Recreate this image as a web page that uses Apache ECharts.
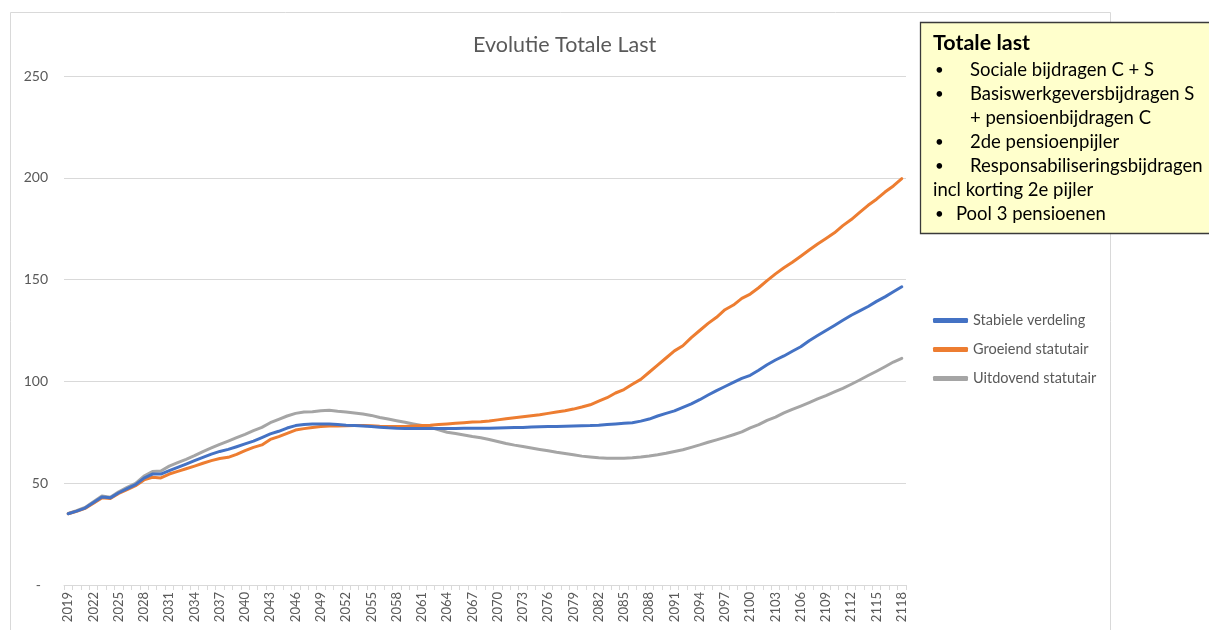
<!DOCTYPE html>
<html>
<head>
<meta charset="utf-8">
<script src="https://cdn.jsdelivr.net/npm/echarts@6/dist/echarts.min.js"></script>
<style>
html,body{margin:0;padding:0;background:#fff;}
#c{width:1209px;height:630px;}
</style>
</head>
<body>
<div id="c"></div>
<script>
var years = ['2019','2020','2021','2022','2023','2024','2025','2026','2027','2028',
'2029','2030','2031','2032','2033','2034','2035','2036','2037','2038',
'2039','2040','2041','2042','2043','2044','2045','2046','2047','2048',
'2049','2050','2051','2052','2053','2054','2055','2056','2057','2058',
'2059','2060','2061','2062','2063','2064','2065','2066','2067','2068',
'2069','2070','2071','2072','2073','2074','2075','2076','2077','2078',
'2079','2080','2081','2082','2083','2084','2085','2086','2087','2088',
'2089','2090','2091','2092','2093','2094','2095','2096','2097','2098',
'2099','2100','2101','2102','2103','2104','2105','2106','2107','2108',
'2109','2110','2111','2112','2113','2114','2115','2116','2117','2118'];

var stabiele = [35.0,36.3,37.8,40.5,43.2,42.8,45.3,47.3,49.3,52.5,
54.5,54.5,56.2,57.8,59.4,61.1,62.7,64.3,65.6,66.6,
67.9,69.3,70.7,72.4,74.2,75.5,77.1,78.3,78.8,79.1,
79.1,79.1,78.8,78.5,78.3,78.1,77.8,77.5,77.2,77.0,
76.9,76.9,76.9,76.9,76.9,76.9,76.9,77.0,77.0,77.0,
77.0,77.1,77.2,77.3,77.4,77.6,77.7,77.8,77.9,78.0,
78.1,78.2,78.3,78.5,78.8,79.1,79.4,79.7,80.5,81.5,
83.0,84.3,85.5,87.3,89.0,91.0,93.3,95.5,97.5,99.5,
101.5,103.0,105.5,108.2,110.5,112.5,114.8,117.0,120.0,122.5,
125.0,127.5,130.0,132.5,134.6,136.8,139.3,141.5,144.0,146.5];

var groeiend = [35.0,36.2,37.6,40.2,42.8,42.5,45.0,46.8,48.8,51.6,
52.9,52.6,54.5,55.8,57.1,58.4,59.8,61.1,62.1,62.7,
64.2,66.0,67.6,68.8,71.5,72.9,74.5,76.1,76.8,77.4,
77.8,78.1,78.1,78.2,78.3,78.4,78.2,78.0,77.9,77.8,
77.9,78.1,78.3,78.5,78.8,79.1,79.4,79.7,80.0,80.2,
80.6,81.1,81.6,82.1,82.6,83.1,83.6,84.3,85.0,85.6,
86.4,87.4,88.5,90.3,92.0,94.3,96.0,98.6,101.0,104.5,
108.0,111.5,115.0,117.5,121.5,125.0,128.5,131.5,135.2,137.5,
140.8,142.9,146.0,149.5,152.8,155.8,158.5,161.5,164.5,167.5,
170.2,173.0,176.5,179.5,183.0,186.5,189.5,193.0,196.0,199.6];

var uitdovend = [35.2,36.5,38.1,40.9,43.7,43.1,45.8,48.0,49.9,53.5,
55.7,56.0,58.4,60.1,61.7,63.5,65.5,67.3,69.1,70.7,
72.4,74.0,75.8,77.4,79.7,81.4,83.0,84.3,85.0,85.1,
85.6,85.8,85.3,85.0,84.5,84.0,83.3,82.3,81.5,80.7,
79.9,79.1,78.3,77.4,76.2,75.0,74.4,73.7,72.9,72.3,
71.5,70.5,69.5,68.7,68.0,67.3,66.6,65.9,65.2,64.6,
64.0,63.3,62.9,62.5,62.3,62.3,62.3,62.5,62.9,63.4,
64.0,64.7,65.6,66.4,67.6,68.8,70.1,71.3,72.5,73.8,
75.2,77.2,78.8,80.9,82.5,84.5,86.3,87.9,89.6,91.4,
93.0,94.8,96.6,98.6,100.7,102.9,105.0,107.2,109.5,111.3];

var seriesNames = ['Stabiele verdeling','Groeiend statutair','Uitdovend statutair'];
var yTicks = [0,50,100,150,200,250];
var titleText = 'Evolutie Totale Last';
var boxTitle = 'Totale last';

var FONT = 'Lato, "Open Sans", sans-serif';
var chart = echarts.init(document.getElementById('c'), null, {renderer:'canvas'});

var boxLines = [
  {bullet:true, bx:935, tx:970, y:70, t:'Sociale bijdragen C + S'},
  {bullet:true, bx:935, tx:970, y:94, t:'Basiswerkgeversbijdragen S'},
  {bullet:false, bx:0, tx:970, y:118, t:'+ pensioenbijdragen C'},
  {bullet:true, bx:935, tx:970, y:142, t:'2de pensioenpijler'},
  {bullet:true, bx:935, tx:970, y:166, t:'Responsabiliseringsbijdragen'},
  {bullet:false, bx:0, tx:933, y:190, t:'incl korting 2e pijler'},
  {bullet:true, bx:935, tx:956, y:214, t:'Pool 3 pensioenen'}
];
var graphics = [
  {type:'rect', z:-10, silent:true, shape:{x:10.5,y:12.5,width:1100,height:640},
   style:{fill:'#ffffff', stroke:'#D9D9D9', lineWidth:1}},
  {type:'rect', z:100, silent:true, shape:{x:920.5,y:22.5,width:300,height:211},
   style:{fill:'#FFFFCC', stroke:'#3a3a3a', lineWidth:1.3}},
  {type:'text', z:101, silent:true, x:933, y:43,
   style:{text:boxTitle, font:'bold 21.5px ' + FONT, fill:'#000', textVerticalAlign:'middle', textBaseline:'middle'}}
];
boxLines.forEach(function(l){
  if (l.bullet) {
    graphics.push({type:'text', z:101, silent:true, x:l.bx, y:l.y,
      style:{text:'•', font:'15px ' + FONT, fill:'#000', textBaseline:'middle', textVerticalAlign:'middle'}});
  }
  graphics.push({type:'text', z:101, silent:true, x:l.tx, y:l.y,
    style:{text:l.t, font:'18.5px ' + FONT, fill:'#000', textBaseline:'middle', textVerticalAlign:'middle'}});
});

var colors = ['#4472C4','#ED7D31','#A5A5A5'];
var dataSets = [stabiele, groeiend, uitdovend];

chart.setOption({
  animation:false,
  color:colors,
  textStyle:{fontFamily:FONT},
  title:{text:titleText, left:468, top:29,
    textStyle:{fontSize:21.5, fontWeight:'normal', color:'#595959', fontFamily:FONT}},
  legend:{orient:'vertical', left:928, top:308, itemGap:14, itemWidth:35, itemHeight:5,
    icon:'roundRect', data:seriesNames,
    textStyle:{fontSize:14.5, color:'#595959', fontFamily:FONT}},
  grid:{left:64, right:303, top:76, bottom:45, containLabel:false},
  xAxis:{type:'category', data:years, boundaryGap:true,
    axisLine:{lineStyle:{color:'#D9D9D9', width:1}},
    axisTick:{show:true, interval:0, length:5, lineStyle:{color:'#D9D9D9'}},
    axisLabel:{interval:2, rotate:90, fontSize:13, color:'#595959', margin:7, fontFamily:FONT}},
  yAxis:{type:'value', min:0, max:250, interval:50,
    axisLine:{show:false}, axisTick:{show:false},
    splitLine:{lineStyle:{color:'#D9D9D9', width:1}},
    axisLabel:{fontSize:14, color:'#595959', margin:16, fontFamily:FONT,
      formatter:function(v){ return v === 0 ? '-  ' : String(v); }}},
  series: seriesNames.map(function(n,i){
    return {name:n, type:'line', data:dataSets[i], showSymbol:false, symbol:'none',
      lineStyle:{width:3, color:colors[i], cap:'round', join:'round'}, z:3-i+2};
  }),
  graphic:graphics
});
</script>
</body>
</html>
